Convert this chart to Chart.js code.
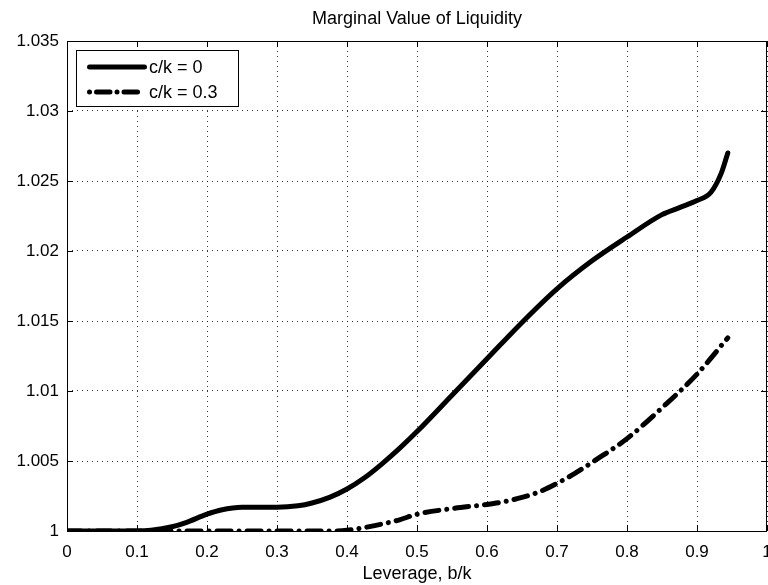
<!DOCTYPE html>
<html lang="en">
<head>
<meta charset="UTF-8">
<title>Marginal Value of Liquidity</title>
<script src="https://cdn.jsdelivr.net/npm/chart.js"></script>
<style>
  html, body { margin: 0; padding: 0; background: #fff; }
</style>
</head>
<body>
<canvas id="liqChart" width="768" height="585"></canvas>
<script>
// c/k = 0 curve
const leverage0 = [0, 0.05, 0.1, 0.12, 0.15, 0.17, 0.2, 0.22, 0.25, 0.3, 0.33, 0.35, 0.375, 0.4, 0.425, 0.45, 0.475, 0.5, 0.55, 0.6, 0.65, 0.7, 0.75, 0.8, 0.85, 0.875, 0.9, 0.92, 0.935, 0.944];
const value0 = [1, 1, 1, 1.00005, 1.0003, 1.0006, 1.0012, 1.0015, 1.0017, 1.0017, 1.0018, 1.002, 1.0024, 1.003, 1.0038, 1.0048, 1.0059, 1.0071, 1.0097, 1.0123, 1.0149, 1.0173, 1.0193, 1.0210, 1.0226, 1.0231, 1.0236, 1.0242, 1.0256, 1.0270];
// c/k = 0.3 curve
const leverage3 = [0, 0.1, 0.2, 0.3, 0.38, 0.4, 0.42, 0.45, 0.475, 0.5, 0.55, 0.6, 0.625, 0.65, 0.675, 0.7, 0.725, 0.75, 0.8, 0.85, 0.9, 0.944];
const value3 = [1, 1, 1, 1, 1, 1.00005, 1.0002, 1.0005, 1.0008, 1.0012, 1.0016, 1.0019, 1.0021, 1.0024, 1.0028, 1.0034, 1.0041, 1.0049, 1.0066, 1.0088, 1.0112, 1.0138];

const seriesNames = ['c/k = 0', 'c/k = 0.3'];
const xTicks = [0, 0.1, 0.2, 0.3, 0.4, 0.5, 0.6, 0.7, 0.8, 0.9, 1];
const xTickLabels = ['0', '0.1', '0.2', '0.3', '0.4', '0.5', '0.6', '0.7', '0.8', '0.9', '1'];
const yTicks = [1, 1.005, 1.01, 1.015, 1.02, 1.025, 1.03, 1.035];
const yTickLabels = ['1', '1.005', '1.01', '1.015', '1.02', '1.025', '1.03', '1.035'];

const FONT = '"Liberation Sans", Arial, Helvetica, sans-serif';
const dashDot = [14, 8, 0.01, 8];
const legendDash = [0.01, 7, 13.5, 7];

// matlab-ish box, inner ticks, title and legend
const matlabAxes = {
    id: 'matlabAxes',
    beforeDatasetsDraw(chart) {
        const {ctx, chartArea: a, scales} = chart;
        ctx.save();
        ctx.strokeStyle = '#000';
        ctx.lineWidth = 1;
        ctx.strokeRect(a.left + 0.5, a.top + 0.5, a.right - a.left - 1, a.bottom - a.top);
        const tl = 6;
        ctx.beginPath();
        xTicks.forEach(v => {
            const px = Math.round(scales.x.getPixelForValue(v)) + 0.5;
            ctx.moveTo(px, a.bottom); ctx.lineTo(px, a.bottom - tl);
            ctx.moveTo(px, a.top); ctx.lineTo(px, a.top + tl);
        });
        yTicks.forEach(v => {
            const py = Math.round(scales.y.getPixelForValue(v)) + 0.5;
            ctx.moveTo(a.left, py); ctx.lineTo(a.left + tl, py);
            ctx.moveTo(a.right, py); ctx.lineTo(a.right - tl, py);
        });
        ctx.stroke();
        ctx.restore();
    },
    afterDraw(chart) {
        const {ctx, chartArea: a} = chart;
        ctx.save();
        ctx.fillStyle = '#000';
        ctx.font = '18px ' + FONT;
        ctx.textAlign = 'center';
        ctx.textBaseline = 'middle';
        ctx.fillText('Marginal Value of Liquidity', (a.left + a.right) / 2, 19);

        // legend box
        const bx = a.left + 9, by = a.top + 9, bw = 162, bh = 56;
        ctx.fillStyle = '#fff';
        ctx.fillRect(bx, by, bw, bh);
        ctx.strokeStyle = '#000';
        ctx.lineWidth = 1;
        ctx.strokeRect(bx + 0.5, by + 0.5, bw, bh);
        chart.data.datasets.forEach((ds, i) => {
            const y = by + 17 + i * 25;
            ctx.save();
            ctx.strokeStyle = '#000';
            ctx.lineWidth = ds.borderWidth;
            ctx.lineCap = 'round';
            ctx.setLineDash(ds.borderDash ? legendDash : []);
            ctx.beginPath();
            ctx.moveTo(bx + 13.5, y);
            ctx.lineTo(bx + 68.5, y);
            ctx.stroke();
            ctx.restore();
            ctx.fillStyle = '#000';
            ctx.textAlign = 'left';
            ctx.textBaseline = 'middle';
            ctx.font = '18px ' + FONT;
            ctx.fillText(seriesNames[i], bx + 73, y + 1);
        });
        ctx.restore();
    }
};

const ctx = document.getElementById('liqChart').getContext('2d');
new Chart(ctx, {
    type: 'line',
    data: {
        datasets: [
            {
                label: seriesNames[0],
                data: leverage0.map((x, i) => ({x: x, y: value0[i]})),
                borderColor: '#000',
                borderWidth: 5,
                borderCapStyle: 'round',
                borderJoinStyle: 'round',
                pointRadius: 0,
                cubicInterpolationMode: 'monotone',
                fill: false
            },
            {
                label: seriesNames[1],
                data: leverage3.map((x, i) => ({x: x, y: value3[i]})),
                borderColor: '#000',
                borderWidth: 5,
                borderDash: dashDot,
                borderCapStyle: 'round',
                borderJoinStyle: 'round',
                pointRadius: 0,
                cubicInterpolationMode: 'monotone',
                fill: false
            }
        ]
    },
    options: {
        responsive: false,
        animation: false,
        devicePixelRatio: 1,
        layout: { padding: { top: 41, right: 1, bottom: 0, left: 0 } },
        plugins: {
            legend: { display: false },
            title: { display: false },
            tooltip: { enabled: false }
        },
        scales: {
            x: {
                type: 'linear',
                min: 0,
                max: 1,
                afterBuildTicks: s => { s.ticks = xTicks.map(v => ({value: v})); },
                afterFit: s => { s.height = 54; s.paddingLeft = 0; s.paddingRight = 0; },
                ticks: {
                    color: '#000',
                    font: { family: FONT, size: 17 },
                    padding: 11,
                    maxRotation: 0,
                    autoSkip: false,
                    callback: (v, i) => xTickLabels[i]
                },
                grid: { color: 'rgba(0,0,0,0.8)', lineWidth: 1, drawTicks: false },
                border: { display: false, dash: [1, 4] },
                title: {
                    display: true,
                    text: 'Leverage, b/k',
                    color: '#000',
                    font: { family: FONT, size: 18 },
                    padding: { top: 0, bottom: 0 }
                }
            },
            y: {
                type: 'linear',
                min: 1,
                max: 1.035,
                afterBuildTicks: s => { s.ticks = yTicks.map(v => ({value: v})); },
                afterFit: s => { s.width = 67; s.paddingTop = 0; s.paddingBottom = 0; },
                ticks: {
                    color: '#000',
                    font: { family: FONT, size: 17 },
                    padding: 8,
                    autoSkip: false,
                    callback: (v, i) => yTickLabels[i]
                },
                grid: { color: 'rgba(0,0,0,0.8)', lineWidth: 1, drawTicks: false },
                border: { display: false, dash: [1, 4] }
            }
        }
    },
    plugins: [matlabAxes]
});
</script>
</body>
</html>
